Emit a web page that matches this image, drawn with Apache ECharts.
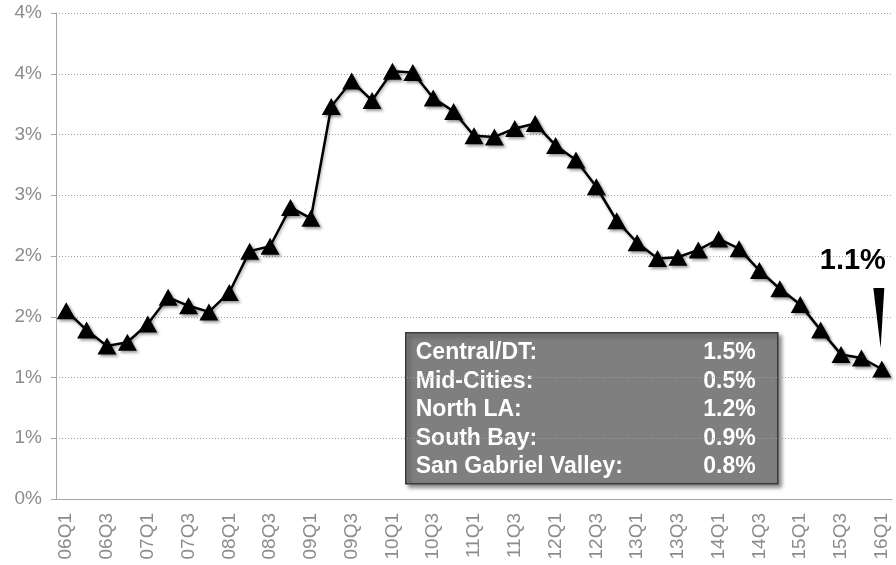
<!DOCTYPE html>
<html>
<head>
<meta charset="utf-8">
<script src="https://cdn.jsdelivr.net/npm/echarts@6/dist/echarts.min.js"></script>
<style>
  html, body { margin: 0; padding: 0; background: #fff; }
  #main { width: 896px; height: 565px; }
</style>
</head>
<body>
<div id="main"></div>
<script>
// quarters 06Q1 .. 16Q1
var quarters = [];
for (var yr = 6; yr <= 16; yr++) {
    for (var q = 1; q <= 4; q++) {
        if (yr === 16 && q > 1) break;
        quarters.push((yr < 10 ? '0' : '') + yr + 'Q' + q);
    }
}
// vacancy rate (%)
var rates = [1.55, 1.39, 1.26, 1.29, 1.44, 1.66, 1.59, 1.54, 1.70, 2.04,
             2.08, 2.40, 2.31, 3.23, 3.44, 3.28, 3.52, 3.51, 3.30, 3.19,
             2.99, 2.98, 3.05, 3.09, 2.91, 2.79, 2.57, 2.29, 2.11, 1.98,
             1.99, 2.05, 2.14, 2.06, 1.88, 1.73, 1.60, 1.39, 1.19, 1.16, 1.07];
// submarket box
var regions = ['Central/DT:', 'Mid-Cities:', 'North LA:', 'South Bay:', 'San Gabriel Valley:'];
var regionVals = ['1.5%', '0.5%', '1.2%', '0.9%', '0.8%'];

var myChart = echarts.init(document.getElementById('main'));

var fontFam = 'Arial, "Liberation Sans", sans-serif';
var boxChildren = [{
    type: 'rect',
    shape: { x: 0, y: 0, width: 372, height: 151 },
    style: {
        fill: '#7f7f7f', stroke: '#3a3a3a', lineWidth: 1.5,
        shadowBlur: 4, shadowOffsetX: 3, shadowOffsetY: 3, shadowColor: 'rgba(0,0,0,0.45)'
    }
}];
for (var i = 0; i < regions.length; i++) {
    boxChildren.push({
        type: 'text',
        style: { text: regions[i], x: 10, y: 20 + i * 28.5, fill: '#fff',
                 fontSize: 23, fontWeight: 'bold', fontFamily: fontFam,
                 verticalAlign: 'middle', align: 'left' }
    });
    boxChildren.push({
        type: 'text',
        style: { text: regionVals[i], x: 350, y: 20 + i * 28.5, fill: '#fff',
                 fontSize: 23, fontWeight: 'bold', fontFamily: fontFam,
                 verticalAlign: 'middle', align: 'right' }
    });
}

var lastIdx = rates.length - 1;

var option = {
    animation: false,
    grid: { left: 56, right: 4, top: 13, bottom: 66 },
    xAxis: {
        type: 'category',
        data: quarters,
        boundaryGap: true,
        axisLine: { lineStyle: { color: '#a6a6a6', width: 1 } },
        axisTick: { interval: 0, length: 5, lineStyle: { color: '#a6a6a6' } },
        axisLabel: {
            interval: 1, rotate: 90, margin: 14,
            color: '#8c8c8c', fontSize: 19, fontFamily: fontFam
        },
        splitLine: { show: false }
    },
    yAxis: {
        type: 'value',
        min: 0, max: 4, interval: 0.5,
        axisLine: { show: true, lineStyle: { color: '#a6a6a6', width: 1 } },
        axisTick: { show: true, length: 5, lineStyle: { color: '#a6a6a6' } },
        axisLabel: {
            margin: 14, color: '#8c8c8c', fontSize: 19, fontFamily: fontFam,
            formatter: function (v) { return Math.round(v) + '%'; }
        },
        splitLine: { lineStyle: { color: '#a0a0a0', type: [1, 2], width: 1 } }
    },
    series: [{
        type: 'line',
        data: rates,
        showAllSymbol: true,
        symbol: 'triangle',
        symbolSize: [19, 17],
        lineStyle: { color: '#000', width: 2.5,
                     shadowColor: 'rgba(0,0,0,0.3)', shadowBlur: 3, shadowOffsetX: 1, shadowOffsetY: 2 },
        itemStyle: { color: '#000', borderWidth: 0,
                     shadowColor: 'rgba(0,0,0,0.4)', shadowBlur: 3, shadowOffsetX: 2, shadowOffsetY: 2 },
        markPoint: {
            symbol: 'path://M0,0 L12,0 L8,60 Z',
            symbolSize: [11, 60],
            symbolKeepAspect: false,
            symbolOffset: [-3, -51],
            itemStyle: { color: '#000' },
            label: {
                show: true, position: 'top', distance: 12, offset: [-26, 0],
                color: '#000', fontSize: 29, fontWeight: 'bold', fontFamily: fontFam,
                formatter: function () { return rates[lastIdx].toFixed(1) + '%'; }
            },
            data: [{ coord: [lastIdx, rates[lastIdx]] }]
        }
    }],
    graphic: [{
        type: 'group',
        left: 405, top: 332,
        children: boxChildren
    }]
};

myChart.setOption(option);
</script>
</body>
</html>
